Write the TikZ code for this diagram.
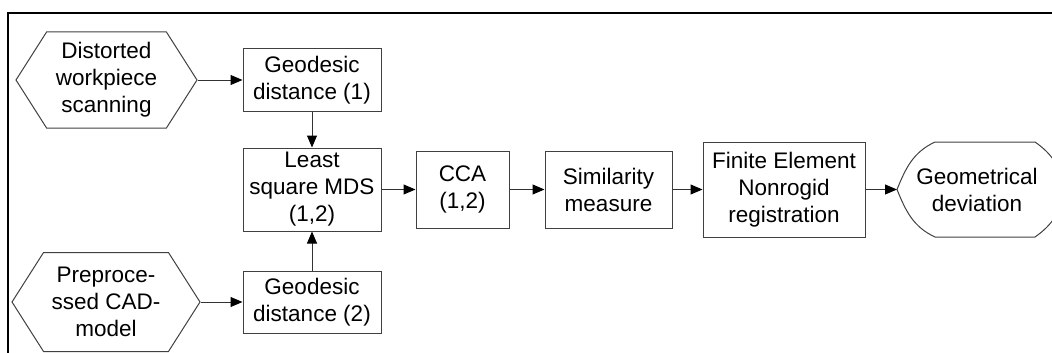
\documentclass[tikz,border=0pt]{standalone}
\usepackage{fontspec}
\setmainfont{Liberation Sans}
\usepackage{tikz}
\usetikzlibrary{shapes.symbols, arrows.meta, positioning, calc}
\definecolor{boxgray}{RGB}{64, 64, 64}
\definecolor{linegray}{RGB}{50, 50, 50}

\begin{document}
\begin{tikzpicture}[x=1pt, y=-1pt,
    every node/.style={font=\fontsize{22.5}{27}\selectfont, align=center, inner sep=0pt},
    procbox/.style={draw=boxgray, line width=1pt, rectangle},
    hexbox/.style={draw=boxgray, line width=1pt, signal, signal to=west and east, signal pointer angle=115},
    flow/.style={draw=linegray, line width=1pt, -{Triangle[length=12pt, width=10pt, color=black]}}]
    \useasboundingbox (0,0) rectangle (1052,353);
    % Rahmen
    \draw[line width=2pt] (8,353) -- (8,13) -- (1052,13);

    % Eingaben
    \node[hexbox, minimum width=181, minimum height=96] (scan) at (106.5,80) {Distorted\\workpiece\\scanning};
    \node[hexbox, minimum width=188, minimum height=99] (cad) at (106,302) {Preproce-\\ssed CAD-\\model};

    % Verarbeitung
    \node[procbox, minimum width=138, minimum height=62] (geoA) at (312,80) {Geodesic\\distance (1)};
    \node[procbox, minimum width=138, minimum height=83] (mds) at (312,189.5) {Least\\square MDS\\(1,2)};
    \node[procbox, minimum width=138, minimum height=62] (geoB) at (312,302) {Geodesic\\distance (2)};
    \node[procbox, minimum width=93, minimum height=77] (cca) at (462.5,189.5) {CCA\\(1,2)};
    \node[procbox, minimum width=127, minimum height=77] (sim) at (608.5,189.5) {Similarity\\measure};
    \node[procbox, minimum width=162, minimum height=95] (fem) at (784,189.5) {Finite Element\\Nonrogid\\registration};

    % Ausgabe
    \node[minimum width=120, minimum height=95] (dev) at (977,189.5) {Geometrical\\deviation};
    \draw[boxgray, line width=1pt] (897,189.5) to[out=68, in=205] (935,142) -- (1035,142)
        to[out=-35, in=90] (1062,189.5) to[out=-90, in=35] (1035,237) -- (935,237)
        to[out=155, in=-68] (897,189.5);
    \coordinate (devin) at (897,189.5);

    \draw[flow] (scan.east) -- (geoA.west);
    \draw[flow] (cad.east) -- (geoB.west);
    \draw[flow] (geoA.south) -- (mds.north);
    \draw[flow] (geoB.north) -- (mds.south);
    \draw[flow] (mds.east) -- (cca.west);
    \draw[flow] (cca.east) -- (sim.west);
    \draw[flow] (sim.east) -- (fem.west);
    \draw[flow] (fem.east) -- (devin);
\end{tikzpicture}
\end{document}
